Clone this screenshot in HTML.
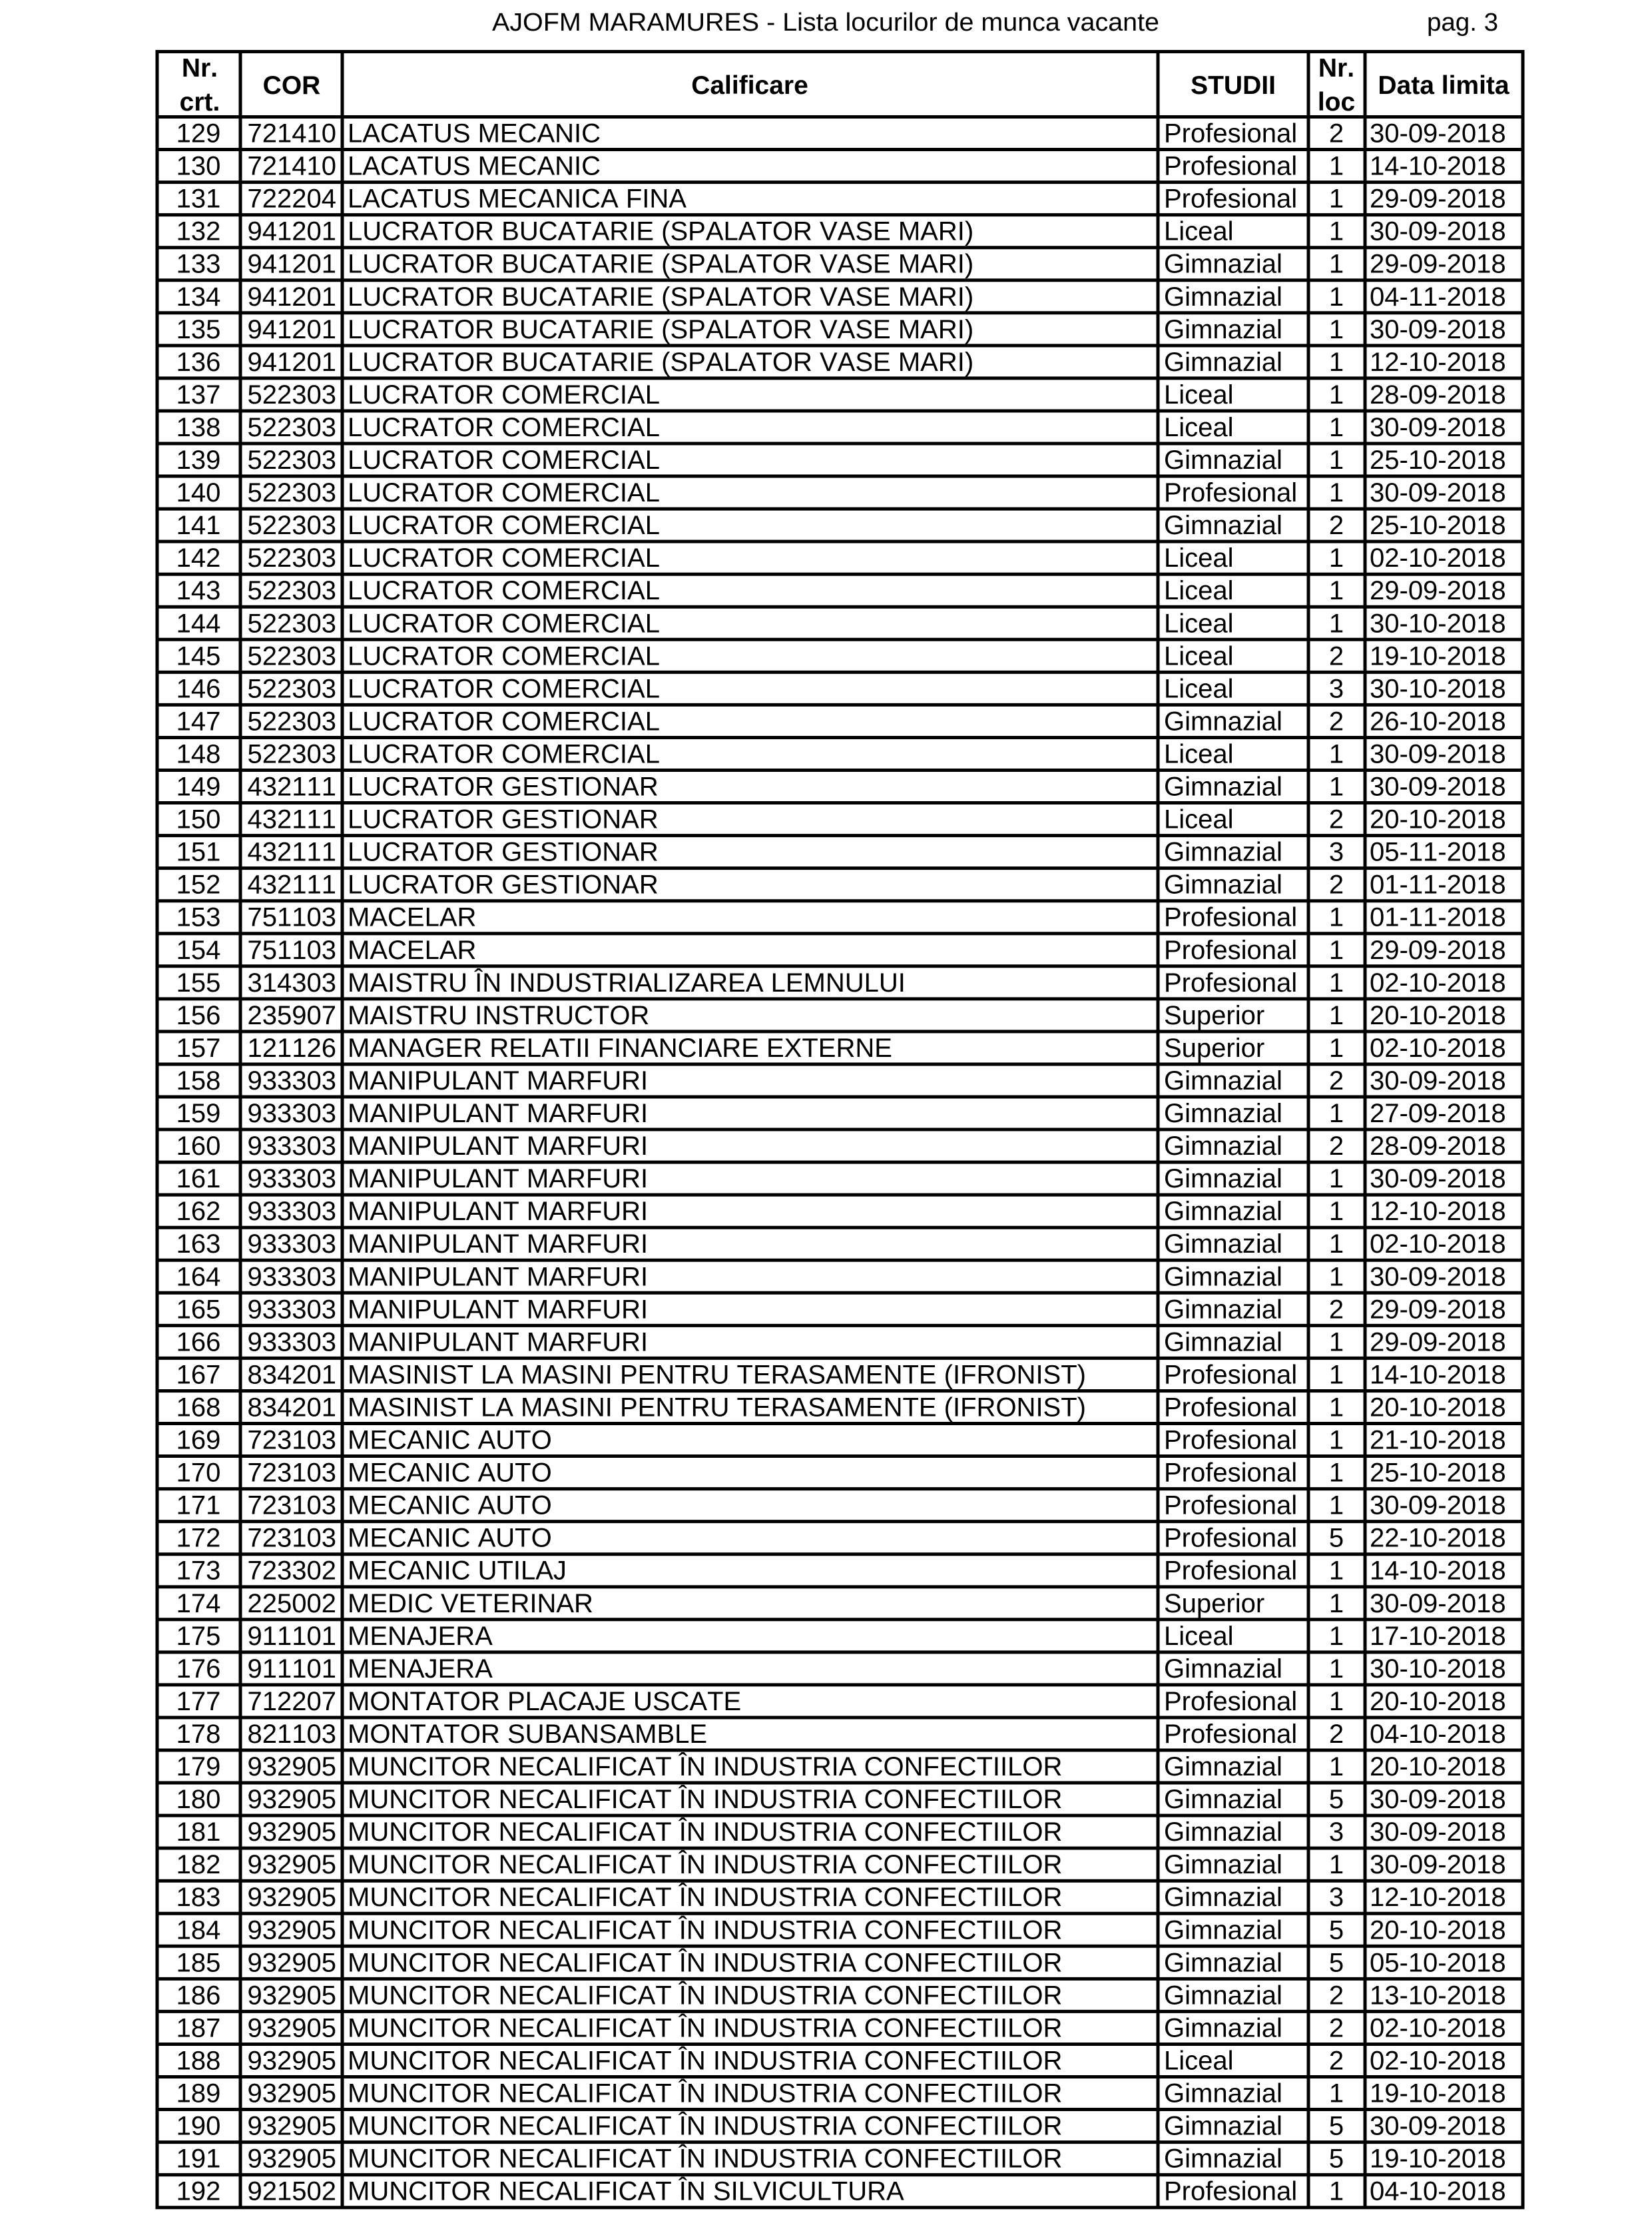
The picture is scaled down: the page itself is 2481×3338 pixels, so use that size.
<!DOCTYPE html>
<html><head><meta charset="utf-8"><style>
html,body{margin:0;padding:0;background:#fff;}
svg{display:block;}
text{font-family:"Liberation Sans",Arial,sans-serif;fill:#000;font-kerning:none;}
.r text{font-size:40px;}
.h{font-weight:bold;font-size:39px;}
</style></head><body>
<svg width="2481" height="3338" viewBox="0 0 2481 3338" xmlns="http://www.w3.org/2000/svg">
<rect width="2481" height="3338" fill="#fff"/>
<text x="739" y="46" font-size="38" textLength="1002" lengthAdjust="spacingAndGlyphs">AJOFM MARAMURES - Lista locurilor de munca vacante</text>
<text x="2143" y="46" font-size="38" textLength="107" lengthAdjust="spacingAndGlyphs">pag. 3</text>

<g stroke="#000" stroke-width="5" fill="none">
<path d="M236 75V3317M361 75V3317M514 75V3317M1739 75V3317M1965 75V3317M2050 75V3317M2287 75V3317"/>
<path d="M233.5 77.5H2289.5"/>
<path d="M236 175.5H2287M236 224.55H2287M236 273.6H2287M236 322.65H2287M236 371.7H2287M236 420.75H2287M236 469.8H2287M236 518.85H2287M236 567.9H2287M236 616.95H2287M236 666H2287M236 715.05H2287M236 764.1H2287M236 813.15H2287M236 862.2H2287M236 911.25H2287M236 960.3H2287M236 1009.35H2287M236 1058.4H2287M236 1107.45H2287M236 1156.5H2287M236 1205.55H2287M236 1254.6H2287M236 1303.65H2287M236 1352.7H2287M236 1401.75H2287M236 1450.8H2287M236 1499.85H2287M236 1548.9H2287M236 1597.95H2287M236 1647H2287M236 1696.05H2287M236 1745.1H2287M236 1794.15H2287M236 1843.2H2287M236 1892.25H2287M236 1941.3H2287M236 1990.35H2287M236 2039.4H2287M236 2088.45H2287M236 2137.5H2287M236 2186.55H2287M236 2235.6H2287M236 2284.65H2287M236 2333.7H2287M236 2382.75H2287M236 2431.8H2287M236 2480.85H2287M236 2529.9H2287M236 2578.95H2287M236 2628H2287M236 2677.05H2287M236 2726.1H2287M236 2775.15H2287M236 2824.2H2287M236 2873.25H2287M236 2922.3H2287M236 2971.35H2287M236 3020.4H2287M236 3069.45H2287M236 3118.5H2287M236 3167.55H2287M236 3216.6H2287M236 3265.65H2287M233.5 3314.7H2289.5"/>
</g>

<g class="h" text-anchor="middle">
<text x="300" y="115" class="h">Nr.</text>
<text x="300" y="166" class="h">crt.</text>
<text x="438" y="141" class="h">COR</text>
<text x="1126" y="141" class="h">Calificare</text>
<text x="1852" y="141" class="h">STUDII</text>
<text x="2007" y="115" class="h">Nr.</text>
<text x="2007" y="166" class="h">loc</text>
<text x="2168" y="141" class="h">Data limita</text>
</g>

<g class="r">
<g transform="translate(0,175.5)"><text x="298" y="38" text-anchor="middle">129</text><text x="505" y="38" text-anchor="end">721410</text><text x="522" y="38">LACATUS MECANIC</text><text x="1748" y="38">Profesional</text><text x="2007" y="38" text-anchor="middle">2</text><text x="2057" y="38">30-09-2018</text></g>
<g transform="translate(0,224.55)"><text x="298" y="38" text-anchor="middle">130</text><text x="505" y="38" text-anchor="end">721410</text><text x="522" y="38">LACATUS MECANIC</text><text x="1748" y="38">Profesional</text><text x="2007" y="38" text-anchor="middle">1</text><text x="2057" y="38">14-10-2018</text></g>
<g transform="translate(0,273.6)"><text x="298" y="38" text-anchor="middle">131</text><text x="505" y="38" text-anchor="end">722204</text><text x="522" y="38">LACATUS MECANICA FINA</text><text x="1748" y="38">Profesional</text><text x="2007" y="38" text-anchor="middle">1</text><text x="2057" y="38">29-09-2018</text></g>
<g transform="translate(0,322.65)"><text x="298" y="38" text-anchor="middle">132</text><text x="505" y="38" text-anchor="end">941201</text><text x="522" y="38">LUCRATOR BUCATARIE (SPALATOR VASE MARI)</text><text x="1748" y="38">Liceal</text><text x="2007" y="38" text-anchor="middle">1</text><text x="2057" y="38">30-09-2018</text></g>
<g transform="translate(0,371.7)"><text x="298" y="38" text-anchor="middle">133</text><text x="505" y="38" text-anchor="end">941201</text><text x="522" y="38">LUCRATOR BUCATARIE (SPALATOR VASE MARI)</text><text x="1748" y="38">Gimnazial</text><text x="2007" y="38" text-anchor="middle">1</text><text x="2057" y="38">29-09-2018</text></g>
<g transform="translate(0,420.75)"><text x="298" y="38" text-anchor="middle">134</text><text x="505" y="38" text-anchor="end">941201</text><text x="522" y="38">LUCRATOR BUCATARIE (SPALATOR VASE MARI)</text><text x="1748" y="38">Gimnazial</text><text x="2007" y="38" text-anchor="middle">1</text><text x="2057" y="38">04-11-2018</text></g>
<g transform="translate(0,469.8)"><text x="298" y="38" text-anchor="middle">135</text><text x="505" y="38" text-anchor="end">941201</text><text x="522" y="38">LUCRATOR BUCATARIE (SPALATOR VASE MARI)</text><text x="1748" y="38">Gimnazial</text><text x="2007" y="38" text-anchor="middle">1</text><text x="2057" y="38">30-09-2018</text></g>
<g transform="translate(0,518.85)"><text x="298" y="38" text-anchor="middle">136</text><text x="505" y="38" text-anchor="end">941201</text><text x="522" y="38">LUCRATOR BUCATARIE (SPALATOR VASE MARI)</text><text x="1748" y="38">Gimnazial</text><text x="2007" y="38" text-anchor="middle">1</text><text x="2057" y="38">12-10-2018</text></g>
<g transform="translate(0,567.9)"><text x="298" y="38" text-anchor="middle">137</text><text x="505" y="38" text-anchor="end">522303</text><text x="522" y="38">LUCRATOR COMERCIAL</text><text x="1748" y="38">Liceal</text><text x="2007" y="38" text-anchor="middle">1</text><text x="2057" y="38">28-09-2018</text></g>
<g transform="translate(0,616.95)"><text x="298" y="38" text-anchor="middle">138</text><text x="505" y="38" text-anchor="end">522303</text><text x="522" y="38">LUCRATOR COMERCIAL</text><text x="1748" y="38">Liceal</text><text x="2007" y="38" text-anchor="middle">1</text><text x="2057" y="38">30-09-2018</text></g>
<g transform="translate(0,666)"><text x="298" y="38" text-anchor="middle">139</text><text x="505" y="38" text-anchor="end">522303</text><text x="522" y="38">LUCRATOR COMERCIAL</text><text x="1748" y="38">Gimnazial</text><text x="2007" y="38" text-anchor="middle">1</text><text x="2057" y="38">25-10-2018</text></g>
<g transform="translate(0,715.05)"><text x="298" y="38" text-anchor="middle">140</text><text x="505" y="38" text-anchor="end">522303</text><text x="522" y="38">LUCRATOR COMERCIAL</text><text x="1748" y="38">Profesional</text><text x="2007" y="38" text-anchor="middle">1</text><text x="2057" y="38">30-09-2018</text></g>
<g transform="translate(0,764.1)"><text x="298" y="38" text-anchor="middle">141</text><text x="505" y="38" text-anchor="end">522303</text><text x="522" y="38">LUCRATOR COMERCIAL</text><text x="1748" y="38">Gimnazial</text><text x="2007" y="38" text-anchor="middle">2</text><text x="2057" y="38">25-10-2018</text></g>
<g transform="translate(0,813.15)"><text x="298" y="38" text-anchor="middle">142</text><text x="505" y="38" text-anchor="end">522303</text><text x="522" y="38">LUCRATOR COMERCIAL</text><text x="1748" y="38">Liceal</text><text x="2007" y="38" text-anchor="middle">1</text><text x="2057" y="38">02-10-2018</text></g>
<g transform="translate(0,862.2)"><text x="298" y="38" text-anchor="middle">143</text><text x="505" y="38" text-anchor="end">522303</text><text x="522" y="38">LUCRATOR COMERCIAL</text><text x="1748" y="38">Liceal</text><text x="2007" y="38" text-anchor="middle">1</text><text x="2057" y="38">29-09-2018</text></g>
<g transform="translate(0,911.25)"><text x="298" y="38" text-anchor="middle">144</text><text x="505" y="38" text-anchor="end">522303</text><text x="522" y="38">LUCRATOR COMERCIAL</text><text x="1748" y="38">Liceal</text><text x="2007" y="38" text-anchor="middle">1</text><text x="2057" y="38">30-10-2018</text></g>
<g transform="translate(0,960.3)"><text x="298" y="38" text-anchor="middle">145</text><text x="505" y="38" text-anchor="end">522303</text><text x="522" y="38">LUCRATOR COMERCIAL</text><text x="1748" y="38">Liceal</text><text x="2007" y="38" text-anchor="middle">2</text><text x="2057" y="38">19-10-2018</text></g>
<g transform="translate(0,1009.35)"><text x="298" y="38" text-anchor="middle">146</text><text x="505" y="38" text-anchor="end">522303</text><text x="522" y="38">LUCRATOR COMERCIAL</text><text x="1748" y="38">Liceal</text><text x="2007" y="38" text-anchor="middle">3</text><text x="2057" y="38">30-10-2018</text></g>
<g transform="translate(0,1058.4)"><text x="298" y="38" text-anchor="middle">147</text><text x="505" y="38" text-anchor="end">522303</text><text x="522" y="38">LUCRATOR COMERCIAL</text><text x="1748" y="38">Gimnazial</text><text x="2007" y="38" text-anchor="middle">2</text><text x="2057" y="38">26-10-2018</text></g>
<g transform="translate(0,1107.45)"><text x="298" y="38" text-anchor="middle">148</text><text x="505" y="38" text-anchor="end">522303</text><text x="522" y="38">LUCRATOR COMERCIAL</text><text x="1748" y="38">Liceal</text><text x="2007" y="38" text-anchor="middle">1</text><text x="2057" y="38">30-09-2018</text></g>
<g transform="translate(0,1156.5)"><text x="298" y="38" text-anchor="middle">149</text><text x="505" y="38" text-anchor="end">432111</text><text x="522" y="38">LUCRATOR GESTIONAR</text><text x="1748" y="38">Gimnazial</text><text x="2007" y="38" text-anchor="middle">1</text><text x="2057" y="38">30-09-2018</text></g>
<g transform="translate(0,1205.55)"><text x="298" y="38" text-anchor="middle">150</text><text x="505" y="38" text-anchor="end">432111</text><text x="522" y="38">LUCRATOR GESTIONAR</text><text x="1748" y="38">Liceal</text><text x="2007" y="38" text-anchor="middle">2</text><text x="2057" y="38">20-10-2018</text></g>
<g transform="translate(0,1254.6)"><text x="298" y="38" text-anchor="middle">151</text><text x="505" y="38" text-anchor="end">432111</text><text x="522" y="38">LUCRATOR GESTIONAR</text><text x="1748" y="38">Gimnazial</text><text x="2007" y="38" text-anchor="middle">3</text><text x="2057" y="38">05-11-2018</text></g>
<g transform="translate(0,1303.65)"><text x="298" y="38" text-anchor="middle">152</text><text x="505" y="38" text-anchor="end">432111</text><text x="522" y="38">LUCRATOR GESTIONAR</text><text x="1748" y="38">Gimnazial</text><text x="2007" y="38" text-anchor="middle">2</text><text x="2057" y="38">01-11-2018</text></g>
<g transform="translate(0,1352.7)"><text x="298" y="38" text-anchor="middle">153</text><text x="505" y="38" text-anchor="end">751103</text><text x="522" y="38">MACELAR</text><text x="1748" y="38">Profesional</text><text x="2007" y="38" text-anchor="middle">1</text><text x="2057" y="38">01-11-2018</text></g>
<g transform="translate(0,1401.75)"><text x="298" y="38" text-anchor="middle">154</text><text x="505" y="38" text-anchor="end">751103</text><text x="522" y="38">MACELAR</text><text x="1748" y="38">Profesional</text><text x="2007" y="38" text-anchor="middle">1</text><text x="2057" y="38">29-09-2018</text></g>
<g transform="translate(0,1450.8)"><text x="298" y="38" text-anchor="middle">155</text><text x="505" y="38" text-anchor="end">314303</text><text x="522" y="38">MAISTRU ÎN INDUSTRIALIZAREA LEMNULUI</text><text x="1748" y="38">Profesional</text><text x="2007" y="38" text-anchor="middle">1</text><text x="2057" y="38">02-10-2018</text></g>
<g transform="translate(0,1499.85)"><text x="298" y="38" text-anchor="middle">156</text><text x="505" y="38" text-anchor="end">235907</text><text x="522" y="38">MAISTRU INSTRUCTOR</text><text x="1748" y="38">Superior</text><text x="2007" y="38" text-anchor="middle">1</text><text x="2057" y="38">20-10-2018</text></g>
<g transform="translate(0,1548.9)"><text x="298" y="38" text-anchor="middle">157</text><text x="505" y="38" text-anchor="end">121126</text><text x="522" y="38">MANAGER RELATII FINANCIARE EXTERNE</text><text x="1748" y="38">Superior</text><text x="2007" y="38" text-anchor="middle">1</text><text x="2057" y="38">02-10-2018</text></g>
<g transform="translate(0,1597.95)"><text x="298" y="38" text-anchor="middle">158</text><text x="505" y="38" text-anchor="end">933303</text><text x="522" y="38">MANIPULANT MARFURI</text><text x="1748" y="38">Gimnazial</text><text x="2007" y="38" text-anchor="middle">2</text><text x="2057" y="38">30-09-2018</text></g>
<g transform="translate(0,1647)"><text x="298" y="38" text-anchor="middle">159</text><text x="505" y="38" text-anchor="end">933303</text><text x="522" y="38">MANIPULANT MARFURI</text><text x="1748" y="38">Gimnazial</text><text x="2007" y="38" text-anchor="middle">1</text><text x="2057" y="38">27-09-2018</text></g>
<g transform="translate(0,1696.05)"><text x="298" y="38" text-anchor="middle">160</text><text x="505" y="38" text-anchor="end">933303</text><text x="522" y="38">MANIPULANT MARFURI</text><text x="1748" y="38">Gimnazial</text><text x="2007" y="38" text-anchor="middle">2</text><text x="2057" y="38">28-09-2018</text></g>
<g transform="translate(0,1745.1)"><text x="298" y="38" text-anchor="middle">161</text><text x="505" y="38" text-anchor="end">933303</text><text x="522" y="38">MANIPULANT MARFURI</text><text x="1748" y="38">Gimnazial</text><text x="2007" y="38" text-anchor="middle">1</text><text x="2057" y="38">30-09-2018</text></g>
<g transform="translate(0,1794.15)"><text x="298" y="38" text-anchor="middle">162</text><text x="505" y="38" text-anchor="end">933303</text><text x="522" y="38">MANIPULANT MARFURI</text><text x="1748" y="38">Gimnazial</text><text x="2007" y="38" text-anchor="middle">1</text><text x="2057" y="38">12-10-2018</text></g>
<g transform="translate(0,1843.2)"><text x="298" y="38" text-anchor="middle">163</text><text x="505" y="38" text-anchor="end">933303</text><text x="522" y="38">MANIPULANT MARFURI</text><text x="1748" y="38">Gimnazial</text><text x="2007" y="38" text-anchor="middle">1</text><text x="2057" y="38">02-10-2018</text></g>
<g transform="translate(0,1892.25)"><text x="298" y="38" text-anchor="middle">164</text><text x="505" y="38" text-anchor="end">933303</text><text x="522" y="38">MANIPULANT MARFURI</text><text x="1748" y="38">Gimnazial</text><text x="2007" y="38" text-anchor="middle">1</text><text x="2057" y="38">30-09-2018</text></g>
<g transform="translate(0,1941.3)"><text x="298" y="38" text-anchor="middle">165</text><text x="505" y="38" text-anchor="end">933303</text><text x="522" y="38">MANIPULANT MARFURI</text><text x="1748" y="38">Gimnazial</text><text x="2007" y="38" text-anchor="middle">2</text><text x="2057" y="38">29-09-2018</text></g>
<g transform="translate(0,1990.35)"><text x="298" y="38" text-anchor="middle">166</text><text x="505" y="38" text-anchor="end">933303</text><text x="522" y="38">MANIPULANT MARFURI</text><text x="1748" y="38">Gimnazial</text><text x="2007" y="38" text-anchor="middle">1</text><text x="2057" y="38">29-09-2018</text></g>
<g transform="translate(0,2039.4)"><text x="298" y="38" text-anchor="middle">167</text><text x="505" y="38" text-anchor="end">834201</text><text x="522" y="38">MASINIST LA MASINI PENTRU TERASAMENTE (IFRONIST)</text><text x="1748" y="38">Profesional</text><text x="2007" y="38" text-anchor="middle">1</text><text x="2057" y="38">14-10-2018</text></g>
<g transform="translate(0,2088.45)"><text x="298" y="38" text-anchor="middle">168</text><text x="505" y="38" text-anchor="end">834201</text><text x="522" y="38">MASINIST LA MASINI PENTRU TERASAMENTE (IFRONIST)</text><text x="1748" y="38">Profesional</text><text x="2007" y="38" text-anchor="middle">1</text><text x="2057" y="38">20-10-2018</text></g>
<g transform="translate(0,2137.5)"><text x="298" y="38" text-anchor="middle">169</text><text x="505" y="38" text-anchor="end">723103</text><text x="522" y="38">MECANIC AUTO</text><text x="1748" y="38">Profesional</text><text x="2007" y="38" text-anchor="middle">1</text><text x="2057" y="38">21-10-2018</text></g>
<g transform="translate(0,2186.55)"><text x="298" y="38" text-anchor="middle">170</text><text x="505" y="38" text-anchor="end">723103</text><text x="522" y="38">MECANIC AUTO</text><text x="1748" y="38">Profesional</text><text x="2007" y="38" text-anchor="middle">1</text><text x="2057" y="38">25-10-2018</text></g>
<g transform="translate(0,2235.6)"><text x="298" y="38" text-anchor="middle">171</text><text x="505" y="38" text-anchor="end">723103</text><text x="522" y="38">MECANIC AUTO</text><text x="1748" y="38">Profesional</text><text x="2007" y="38" text-anchor="middle">1</text><text x="2057" y="38">30-09-2018</text></g>
<g transform="translate(0,2284.65)"><text x="298" y="38" text-anchor="middle">172</text><text x="505" y="38" text-anchor="end">723103</text><text x="522" y="38">MECANIC AUTO</text><text x="1748" y="38">Profesional</text><text x="2007" y="38" text-anchor="middle">5</text><text x="2057" y="38">22-10-2018</text></g>
<g transform="translate(0,2333.7)"><text x="298" y="38" text-anchor="middle">173</text><text x="505" y="38" text-anchor="end">723302</text><text x="522" y="38">MECANIC UTILAJ</text><text x="1748" y="38">Profesional</text><text x="2007" y="38" text-anchor="middle">1</text><text x="2057" y="38">14-10-2018</text></g>
<g transform="translate(0,2382.75)"><text x="298" y="38" text-anchor="middle">174</text><text x="505" y="38" text-anchor="end">225002</text><text x="522" y="38">MEDIC VETERINAR</text><text x="1748" y="38">Superior</text><text x="2007" y="38" text-anchor="middle">1</text><text x="2057" y="38">30-09-2018</text></g>
<g transform="translate(0,2431.8)"><text x="298" y="38" text-anchor="middle">175</text><text x="505" y="38" text-anchor="end">911101</text><text x="522" y="38">MENAJERA</text><text x="1748" y="38">Liceal</text><text x="2007" y="38" text-anchor="middle">1</text><text x="2057" y="38">17-10-2018</text></g>
<g transform="translate(0,2480.85)"><text x="298" y="38" text-anchor="middle">176</text><text x="505" y="38" text-anchor="end">911101</text><text x="522" y="38">MENAJERA</text><text x="1748" y="38">Gimnazial</text><text x="2007" y="38" text-anchor="middle">1</text><text x="2057" y="38">30-10-2018</text></g>
<g transform="translate(0,2529.9)"><text x="298" y="38" text-anchor="middle">177</text><text x="505" y="38" text-anchor="end">712207</text><text x="522" y="38">MONTATOR PLACAJE USCATE</text><text x="1748" y="38">Profesional</text><text x="2007" y="38" text-anchor="middle">1</text><text x="2057" y="38">20-10-2018</text></g>
<g transform="translate(0,2578.95)"><text x="298" y="38" text-anchor="middle">178</text><text x="505" y="38" text-anchor="end">821103</text><text x="522" y="38">MONTATOR SUBANSAMBLE</text><text x="1748" y="38">Profesional</text><text x="2007" y="38" text-anchor="middle">2</text><text x="2057" y="38">04-10-2018</text></g>
<g transform="translate(0,2628)"><text x="298" y="38" text-anchor="middle">179</text><text x="505" y="38" text-anchor="end">932905</text><text x="522" y="38">MUNCITOR NECALIFICAT ÎN INDUSTRIA CONFECTIILOR</text><text x="1748" y="38">Gimnazial</text><text x="2007" y="38" text-anchor="middle">1</text><text x="2057" y="38">20-10-2018</text></g>
<g transform="translate(0,2677.05)"><text x="298" y="38" text-anchor="middle">180</text><text x="505" y="38" text-anchor="end">932905</text><text x="522" y="38">MUNCITOR NECALIFICAT ÎN INDUSTRIA CONFECTIILOR</text><text x="1748" y="38">Gimnazial</text><text x="2007" y="38" text-anchor="middle">5</text><text x="2057" y="38">30-09-2018</text></g>
<g transform="translate(0,2726.1)"><text x="298" y="38" text-anchor="middle">181</text><text x="505" y="38" text-anchor="end">932905</text><text x="522" y="38">MUNCITOR NECALIFICAT ÎN INDUSTRIA CONFECTIILOR</text><text x="1748" y="38">Gimnazial</text><text x="2007" y="38" text-anchor="middle">3</text><text x="2057" y="38">30-09-2018</text></g>
<g transform="translate(0,2775.15)"><text x="298" y="38" text-anchor="middle">182</text><text x="505" y="38" text-anchor="end">932905</text><text x="522" y="38">MUNCITOR NECALIFICAT ÎN INDUSTRIA CONFECTIILOR</text><text x="1748" y="38">Gimnazial</text><text x="2007" y="38" text-anchor="middle">1</text><text x="2057" y="38">30-09-2018</text></g>
<g transform="translate(0,2824.2)"><text x="298" y="38" text-anchor="middle">183</text><text x="505" y="38" text-anchor="end">932905</text><text x="522" y="38">MUNCITOR NECALIFICAT ÎN INDUSTRIA CONFECTIILOR</text><text x="1748" y="38">Gimnazial</text><text x="2007" y="38" text-anchor="middle">3</text><text x="2057" y="38">12-10-2018</text></g>
<g transform="translate(0,2873.25)"><text x="298" y="38" text-anchor="middle">184</text><text x="505" y="38" text-anchor="end">932905</text><text x="522" y="38">MUNCITOR NECALIFICAT ÎN INDUSTRIA CONFECTIILOR</text><text x="1748" y="38">Gimnazial</text><text x="2007" y="38" text-anchor="middle">5</text><text x="2057" y="38">20-10-2018</text></g>
<g transform="translate(0,2922.3)"><text x="298" y="38" text-anchor="middle">185</text><text x="505" y="38" text-anchor="end">932905</text><text x="522" y="38">MUNCITOR NECALIFICAT ÎN INDUSTRIA CONFECTIILOR</text><text x="1748" y="38">Gimnazial</text><text x="2007" y="38" text-anchor="middle">5</text><text x="2057" y="38">05-10-2018</text></g>
<g transform="translate(0,2971.35)"><text x="298" y="38" text-anchor="middle">186</text><text x="505" y="38" text-anchor="end">932905</text><text x="522" y="38">MUNCITOR NECALIFICAT ÎN INDUSTRIA CONFECTIILOR</text><text x="1748" y="38">Gimnazial</text><text x="2007" y="38" text-anchor="middle">2</text><text x="2057" y="38">13-10-2018</text></g>
<g transform="translate(0,3020.4)"><text x="298" y="38" text-anchor="middle">187</text><text x="505" y="38" text-anchor="end">932905</text><text x="522" y="38">MUNCITOR NECALIFICAT ÎN INDUSTRIA CONFECTIILOR</text><text x="1748" y="38">Gimnazial</text><text x="2007" y="38" text-anchor="middle">2</text><text x="2057" y="38">02-10-2018</text></g>
<g transform="translate(0,3069.45)"><text x="298" y="38" text-anchor="middle">188</text><text x="505" y="38" text-anchor="end">932905</text><text x="522" y="38">MUNCITOR NECALIFICAT ÎN INDUSTRIA CONFECTIILOR</text><text x="1748" y="38">Liceal</text><text x="2007" y="38" text-anchor="middle">2</text><text x="2057" y="38">02-10-2018</text></g>
<g transform="translate(0,3118.5)"><text x="298" y="38" text-anchor="middle">189</text><text x="505" y="38" text-anchor="end">932905</text><text x="522" y="38">MUNCITOR NECALIFICAT ÎN INDUSTRIA CONFECTIILOR</text><text x="1748" y="38">Gimnazial</text><text x="2007" y="38" text-anchor="middle">1</text><text x="2057" y="38">19-10-2018</text></g>
<g transform="translate(0,3167.55)"><text x="298" y="38" text-anchor="middle">190</text><text x="505" y="38" text-anchor="end">932905</text><text x="522" y="38">MUNCITOR NECALIFICAT ÎN INDUSTRIA CONFECTIILOR</text><text x="1748" y="38">Gimnazial</text><text x="2007" y="38" text-anchor="middle">5</text><text x="2057" y="38">30-09-2018</text></g>
<g transform="translate(0,3216.6)"><text x="298" y="38" text-anchor="middle">191</text><text x="505" y="38" text-anchor="end">932905</text><text x="522" y="38">MUNCITOR NECALIFICAT ÎN INDUSTRIA CONFECTIILOR</text><text x="1748" y="38">Gimnazial</text><text x="2007" y="38" text-anchor="middle">5</text><text x="2057" y="38">19-10-2018</text></g>
<g transform="translate(0,3265.65)"><text x="298" y="38" text-anchor="middle">192</text><text x="505" y="38" text-anchor="end">921502</text><text x="522" y="38">MUNCITOR NECALIFICAT ÎN SILVICULTURA</text><text x="1748" y="38">Profesional</text><text x="2007" y="38" text-anchor="middle">1</text><text x="2057" y="38">04-10-2018</text></g>
</g>
</svg>
</body></html>
